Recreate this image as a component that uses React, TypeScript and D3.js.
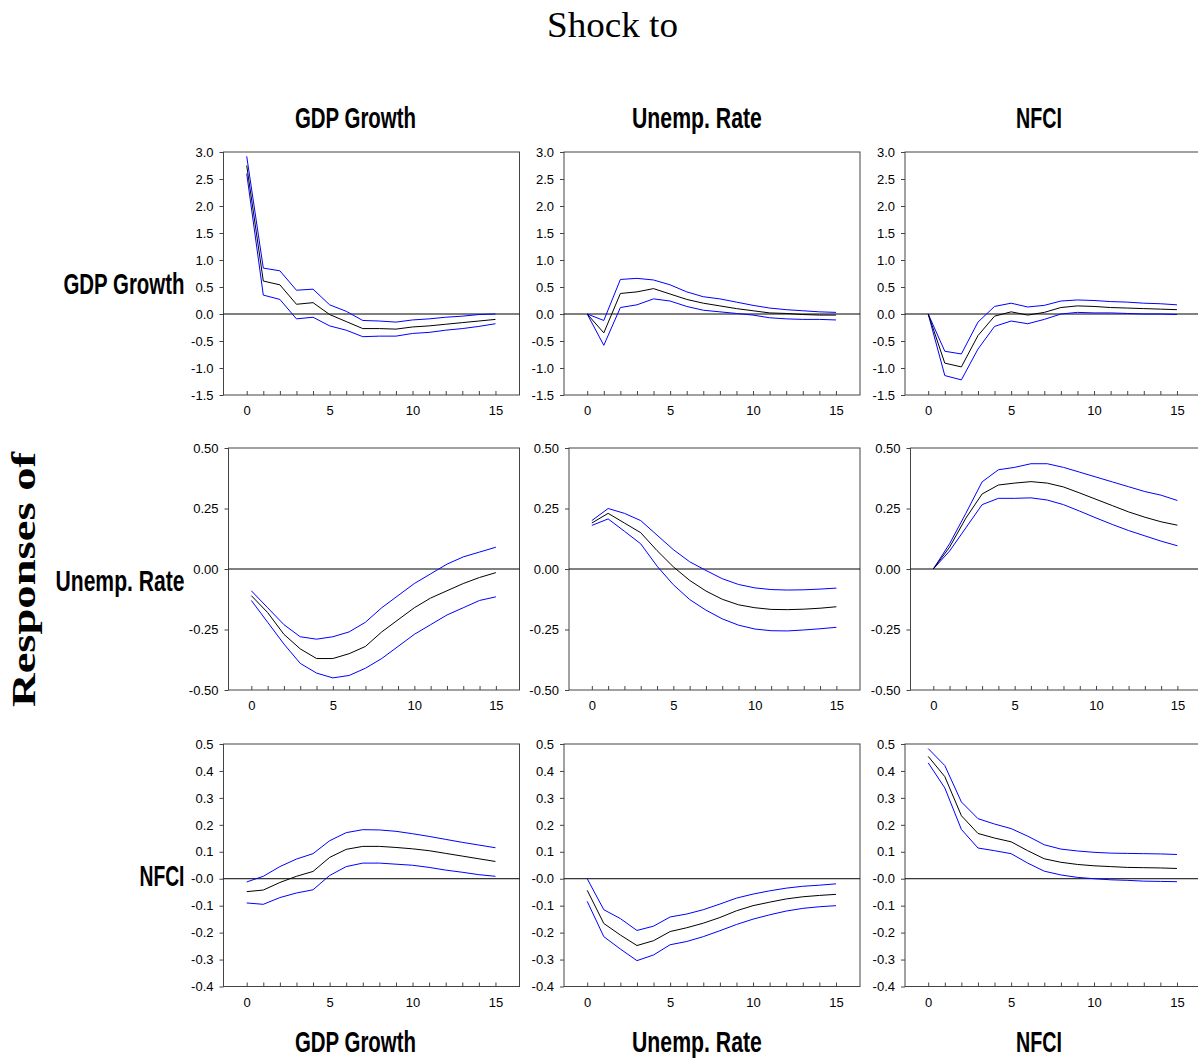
import React, { useEffect, useRef } from 'react'
import * as d3 from 'd3'

// periods after the shock
const horizon = d3.range(0, 16)
const variables = ['GDP Growth', 'Unemp. Rate', 'NFCI']

// y tick labels per response row
const gdpTicks = [-1.5, -1.0, -0.5, 0.0, 0.5, 1.0, 1.5, 2.0, 2.5, 3.0]
const gdpTickLabels = ['-1.5', '-1.0', '-0.5', '0.0', '0.5', '1.0', '1.5', '2.0', '2.5', '3.0']
const unempTicks = [-0.5, -0.25, 0, 0.25, 0.5]
const unempTickLabels = ['-0.50', '-0.25', '0.00', '0.25', '0.50']
const nfciTicks = [-0.4, -0.3, -0.2, -0.1, 0, 0.1, 0.2, 0.3, 0.4, 0.5]
const nfciTickLabels = ['-0.4', '-0.3', '-0.2', '-0.1', '-0.0', '0.1', '0.2', '0.3', '0.4', '0.5']
const xTickLabels = [0, 5, 10, 15]

// responses of GDP growth
const gdpToGdp = [2.75, 0.61, 0.54, 0.18, 0.21, -0.01, -0.14, -0.27, -0.27, -0.28, -0.24, -0.22, -0.19, -0.16, -0.13, -0.10]
const gdpToGdpHi = [2.92, 0.85, 0.80, 0.44, 0.46, 0.17, 0.05, -0.12, -0.13, -0.15, -0.11, -0.09, -0.06, -0.04, -0.01, 0.0]
const gdpToGdpLo = [2.6, 0.35, 0.27, -0.09, -0.06, -0.22, -0.30, -0.42, -0.41, -0.41, -0.36, -0.34, -0.30, -0.27, -0.23, -0.18]
const gdpToUnemp = [0, -0.35, 0.38, 0.41, 0.47, 0.37, 0.27, 0.20, 0.15, 0.10, 0.06, 0.02, 0.01, -0.01, -0.02, -0.02]
const gdpToUnempHi = [0, -0.12, 0.64, 0.66, 0.63, 0.54, 0.41, 0.32, 0.28, 0.22, 0.16, 0.11, 0.08, 0.06, 0.04, 0.03]
const gdpToUnempLo = [0, -0.58, 0.12, 0.17, 0.28, 0.24, 0.14, 0.07, 0.04, 0.01, -0.02, -0.07, -0.09, -0.10, -0.10, -0.11]
const gdpToNfci = [0, -0.91, -0.98, -0.40, -0.04, 0.04, -0.02, 0.03, 0.12, 0.15, 0.14, 0.12, 0.11, 0.10, 0.09, 0.08]
const gdpToNfciHi = [0, -0.69, -0.74, -0.15, 0.14, 0.20, 0.13, 0.16, 0.24, 0.26, 0.25, 0.23, 0.22, 0.20, 0.19, 0.17]
const gdpToNfciLo = [0, -1.14, -1.22, -0.65, -0.23, -0.13, -0.18, -0.10, 0.0, 0.03, 0.02, 0.02, 0.01, 0.0, 0.0, -0.01]

// responses of the unemployment rate
const unempToGdp = [-0.11, -0.18, -0.27, -0.33, -0.37, -0.37, -0.35, -0.32, -0.26, -0.21, -0.16, -0.12, -0.09, -0.06, -0.035, -0.015]
const unempToGdpHi = [-0.09, -0.16, -0.23, -0.28, -0.29, -0.28, -0.26, -0.22, -0.16, -0.11, -0.06, -0.02, 0.02, 0.05, 0.07, 0.09]
const unempToGdpLo = [-0.13, -0.22, -0.31, -0.39, -0.43, -0.45, -0.44, -0.41, -0.37, -0.32, -0.27, -0.23, -0.19, -0.16, -0.13, -0.115]
const unempToUnemp = [0.19, 0.23, 0.19, 0.15, 0.076, 0.009, -0.047, -0.091, -0.125, -0.148, -0.16, -0.167, -0.168, -0.166, -0.162, -0.156]
const unempToUnempHi = [0.20, 0.25, 0.23, 0.20, 0.14, 0.08, 0.03, -0.006, -0.04, -0.064, -0.078, -0.085, -0.087, -0.086, -0.083, -0.079]
const unempToUnempLo = [0.18, 0.207, 0.156, 0.104, 0.012, -0.065, -0.126, -0.17, -0.206, -0.232, -0.248, -0.255, -0.256, -0.252, -0.247, -0.241]
const unempToNfci = [0, 0.09, 0.21, 0.31, 0.347, 0.355, 0.361, 0.355, 0.339, 0.314, 0.288, 0.262, 0.236, 0.214, 0.195, 0.181]
const unempToNfciHi = [0, 0.104, 0.23, 0.36, 0.41, 0.42, 0.435, 0.435, 0.42, 0.40, 0.38, 0.36, 0.34, 0.32, 0.305, 0.283]
const unempToNfciLo = [0, 0.074, 0.17, 0.266, 0.292, 0.292, 0.294, 0.285, 0.266, 0.239, 0.211, 0.184, 0.159, 0.137, 0.115, 0.096]

// responses of NFCI
const nfciToGdp = [-0.048, -0.042, -0.014, 0.009, 0.027, 0.079, 0.109, 0.12, 0.12, 0.116, 0.111, 0.104, 0.094, 0.084, 0.074, 0.064]
const nfciToGdpHi = [-0.012, 0.009, 0.045, 0.073, 0.093, 0.141, 0.171, 0.182, 0.181, 0.176, 0.167, 0.157, 0.146, 0.135, 0.125, 0.115]
const nfciToGdpLo = [-0.09, -0.095, -0.07, -0.053, -0.041, 0.012, 0.045, 0.058, 0.058, 0.054, 0.05, 0.042, 0.032, 0.024, 0.015, 0.009]
const nfciToUnemp = [-0.043, -0.166, -0.209, -0.248, -0.23, -0.196, -0.182, -0.165, -0.144, -0.119, -0.10, -0.087, -0.075, -0.067, -0.062, -0.058]
const nfciToUnempHi = [0.0, -0.115, -0.148, -0.192, -0.176, -0.142, -0.131, -0.115, -0.094, -0.072, -0.057, -0.045, -0.035, -0.028, -0.024, -0.019]
const nfciToUnempLo = [-0.084, -0.215, -0.261, -0.304, -0.283, -0.245, -0.233, -0.215, -0.193, -0.17, -0.15, -0.134, -0.12, -0.11, -0.104, -0.10]
const nfciToNfci = [0.454, 0.379, 0.234, 0.168, 0.151, 0.137, 0.104, 0.074, 0.061, 0.053, 0.048, 0.045, 0.042, 0.041, 0.04, 0.038]
const nfciToNfciHi = [0.483, 0.42, 0.285, 0.223, 0.203, 0.186, 0.158, 0.126, 0.11, 0.103, 0.098, 0.095, 0.094, 0.093, 0.092, 0.09]
const nfciToNfciLo = [0.43, 0.337, 0.183, 0.114, 0.104, 0.093, 0.058, 0.028, 0.014, 0.005, 0.0, -0.004, -0.006, -0.009, -0.01, -0.011]

const rows = [
  { domain: [-1.5, 3.0], ticks: gdpTicks, labels: gdpTickLabels,
    panels: [[gdpToGdp, gdpToGdpLo, gdpToGdpHi], [gdpToUnemp, gdpToUnempLo, gdpToUnempHi], [gdpToNfci, gdpToNfciLo, gdpToNfciHi]] },
  { domain: [-0.5, 0.5], ticks: unempTicks, labels: unempTickLabels,
    panels: [[unempToGdp, unempToGdpLo, unempToGdpHi], [unempToUnemp, unempToUnempLo, unempToUnempHi], [unempToNfci, unempToNfciLo, unempToNfciHi]] },
  { domain: [-0.4, 0.5], ticks: nfciTicks, labels: nfciTickLabels,
    panels: [[nfciToGdp, nfciToGdpLo, nfciToGdpHi], [nfciToUnemp, nfciToUnempLo, nfciToUnempHi], [nfciToNfci, nfciToNfciLo, nfciToNfciHi]] },
]

const W = 1198
const H = 1059
const narrowFont = "'Liberation Sans Narrow', 'Arial Narrow', 'Liberation Sans', sans-serif"

function App() {
  const ref = useRef<SVGSVGElement>(null)

  useEffect(() => {
    drawChart(ref.current as SVGSVGElement)
  }, [])

  return (
    <svg ref={ref} width={W} height={H}
      style={{ position: 'absolute', left: 0, top: 0, background: '#fff' }} />
  )
}

// bold condensed label: font size picked so the natural width fits,
// then stretched vertically to the cap height of a 29px font
function condensedLabel(svg: any, label: string, x: number, base: number, width: number) {
  const t = svg.append('text')
    .attr('font-family', narrowFont)
    .attr('font-weight', 'bold')
    .attr('font-size', 29)
    .text(label)
  const natural = (t.node() as SVGTextElement).getComputedTextLength() || width
  const size = 29 * width / natural
  t.attr('font-size', size)
    .attr('transform', 'translate(' + x + ',' + base + ') scale(1,' + (29 / size) + ')')
}

function drawChart(node: SVGSVGElement) {
  const svg = d3.select(node)
  svg.selectAll('*').remove()

  // panel frames
  const rowTop = [152, 448, 744]
  const rowBottom = [395, 690, 986.5]
  const rowLeft = [[223.5, 564, 905], [228.5, 569, 910.5], [223.5, 564, 905]]
  const colRight = [519.5, 860, 1201]
  const titleLeft = [295, 632, 1016]
  const titleWidth = [121, 130, 46]
  const rowLabelWidth = [121, 129, 45]
  const rowLabelBase = [294, 591, 886]

  rows.forEach((row, r) => {
    row.panels.forEach((series, c) => {
      const left = rowLeft[r][c]
      const right = colRight[c]
      const top = rowTop[r]
      const bottom = rowBottom[r]

      const x = d3.scaleLinear().domain([-1.4, 16.45]).range([left, right])
      const y = d3.scaleLinear().domain(row.domain).range([bottom, top])

      const g = svg.append('g')

      // y axis
      const yAxis = d3.axisLeft(y)
        .tickValues(row.ticks)
        .tickFormat((d, i) => row.labels[i])
        .tickSize(4)
        .tickPadding(6)
      const ya = g.append('g').attr('transform', 'translate(' + left + ',0)').call(yAxis)
      ya.select('.domain').remove()

      // x axis, ticks drawn inward
      const xAxis = d3.axisBottom(x)
        .tickValues(horizon)
        .tickFormat(d => (xTickLabels.indexOf(+d) >= 0 ? String(d) : ''))
        .tickSize(-4)
        .tickPadding(11)
      const xa = g.append('g').attr('transform', 'translate(0,' + bottom + ')').call(xAxis)
      xa.select('.domain').remove()

      g.selectAll('.tick text')
        .attr('font-family', narrowFont)
        .attr('font-size', 13)
        .attr('fill', '#000')
      g.selectAll('.tick line').attr('stroke', '#444')

      // frame
      g.append('rect')
        .attr('x', left).attr('y', top)
        .attr('width', right - left).attr('height', bottom - top)
        .attr('fill', 'none').attr('stroke', '#444').attr('stroke-width', 1)

      // zero line
      g.append('line')
        .attr('x1', left).attr('x2', right)
        .attr('y1', y(0)).attr('y2', y(0))
        .attr('stroke', '#000').attr('stroke-width', 1)

      const line = d3.line<number>()
        .x((d, i) => x(horizon[i]))
        .y(d => y(d))

      const [mid, lo, hi] = series
      g.append('path').attr('d', line(hi)).attr('fill', 'none').attr('stroke', '#0000ff').attr('stroke-width', 1)
      g.append('path').attr('d', line(lo)).attr('fill', 'none').attr('stroke', '#0000ff').attr('stroke-width', 1)
      g.append('path').attr('d', line(mid)).attr('fill', 'none').attr('stroke', '#000').attr('stroke-width', 1)
    })

    // row label
    condensedLabel(svg, variables[r], 184.5 - rowLabelWidth[r], rowLabelBase[r], rowLabelWidth[r])
  })

  // column titles, top and bottom
  variables.forEach((name, c) => {
    ;[128, 1052].forEach(base => {
      condensedLabel(svg, name, titleLeft[c], base, titleWidth[c])
    })
  })

  svg.append('text')
    .attr('x', 547)
    .attr('y', 37)
    .attr('font-family', "'Liberation Serif', 'Times New Roman', serif")
    .attr('font-size', 36)
    .attr('textLength', 131)
    .attr('lengthAdjust', 'spacingAndGlyphs')
    .text('Shock to')

  svg.append('text')
    .attr('transform', 'translate(35,707) rotate(-90)')
    .attr('font-family', "'Liberation Serif', 'Times New Roman', serif")
    .attr('font-weight', 'bold')
    .attr('font-size', 33)
    .attr('textLength', 255)
    .attr('lengthAdjust', 'spacingAndGlyphs')
    .text('Responses of')
}

export default App
